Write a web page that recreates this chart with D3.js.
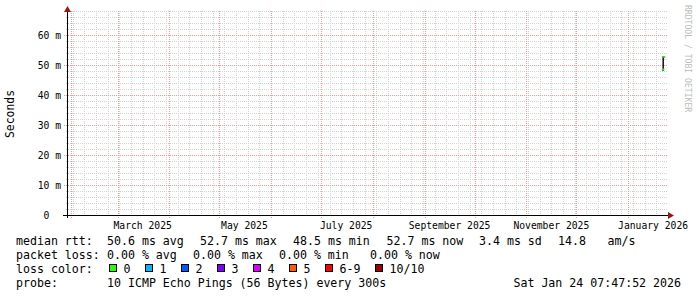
<!DOCTYPE html>
<html>
  <head>
    <meta charset="utf-8" />
    <title>SmokePing median RTT</title>
    <script src="https://d3js.org/d3.v7.min.js"></script>
    <style>
      body { margin: 0; background: #fff; }
      svg text { font-family: "DejaVu Sans Mono", monospace; white-space: pre; }
      .tick-label { font-size: 9.7px; fill: #000; }
      .legend { font-size: 11.6px; fill: #000; }
    </style>
  </head>
  <body>
    <svg id="chart"></svg>
    <script>
      // --- data ---
      const graphStart = '2025-01-29T07:47:52Z';
      const graphEnd = '2026-01-24T07:47:52Z';

      const yTicks = [0, 10, 20, 30, 40, 50, 60];
      const yTickLabels = ['0  ', '10 m', '20 m', '30 m', '40 m', '50 m', '60 m'];

      const xLabelMonths = ['2025-03-01', '2025-05-01', '2025-07-01', '2025-09-01', '2025-11-01', '2026-01-01'];
      const xTickLabels = ['March 2025', 'May 2025', 'July 2025', 'September 2025', 'November 2025', 'January 2026'];

      // median rtt steps (ms), loss level 0
      const stepTimes = ['2026-01-21T21:00:00Z', '2026-01-22T09:00:00Z'];
      const stepEnd = '2026-01-22T22:00:00Z';
      const medianValues = [48.5, 52.7];
      const smokeMin = [48.0, 52.4];
      const smokeMax = [52.9, 52.9];

      const rttStats = ['50.6 ms avg', '52.7 ms max', '48.5 ms min', '52.7 ms now', '3.4 ms sd', '14.8', 'am/s'];
      const lossStats = ['0.00 % avg', '0.00 % max', '0.00 % min', '0.00 % now'];
      const lossLabels = ['0', '1', '2', '3', '4', '5', '6-9', '10/10'];
      const lossColors = ['#26ff00', '#00b8ff', '#0059ff', '#7e00ff', '#dd00ff', '#ff5e00', '#ff0000', '#a10000'];
      const probeText = '10 ICMP Echo Pings (56 Bytes) every 300s';
      const stampText = 'Sat Jan 24 07:47:52 2026';

      // --- layout ---
      const width = 697, height = 297;
      const svg = d3.select('#chart').attr('width', width).attr('height', height);

      const x = d3.scaleUtc()
        .domain([new Date(graphStart), new Date(graphEnd)])
        .range([66.5, 667]);
      const y = d3.scaleLinear().domain([0, 68]).range([215, 11]);

      const plotTop = 11, plotBottom = 215, plotLeft = 67, plotRight = 668;
      const px = v => Math.round(v) + 0.5;

      const grid = svg.append('g');

      // horizontal minor lines every 2 ms
      d3.range(2, 69, 2).filter(v => v % 10 !== 0).forEach(v => {
        grid.append('line')
          .attr('x1', plotLeft - 1).attr('x2', plotRight)
          .attr('y1', px(y(v))).attr('y2', px(y(v)))
          .attr('stroke', '#d2d2d2').attr('stroke-dasharray', '1,1');
      });

      // vertical minor lines: weeks (Sunday)
      const t0 = x.domain()[0], t1 = x.domain()[1];
      d3.utcSunday.range(t0, t1).forEach(d => {
        grid.append('line')
          .attr('x1', px(x(d))).attr('x2', px(x(d)))
          .attr('y1', plotTop).attr('y2', plotBottom + 2)
          .attr('stroke', '#d2d2d2').attr('stroke-dasharray', '1,1');
      });

      // vertical major lines: month starts
      d3.utcMonth.range(t0, t1).forEach(d => {
        grid.append('line')
          .attr('x1', px(x(d))).attr('x2', px(x(d)))
          .attr('y1', plotTop).attr('y2', plotBottom + 3)
          .attr('stroke', '#f09a9a').attr('stroke-dasharray', '1,1');
      });

      // horizontal major lines every 10 ms
      yTicks.filter(v => v > 0).forEach(v => {
        grid.append('line')
          .attr('x1', plotLeft - 3).attr('x2', plotRight)
          .attr('y1', px(y(v))).attr('y2', px(y(v)))
          .attr('stroke', '#f09a9a').attr('stroke-dasharray', '1,1');
      });

      // smoke
      stepTimes.forEach((t, i) => {
        svg.append('rect')
          .attr('x', x(new Date(t)) - 0.5)
          .attr('width', 1.6)
          .attr('y', y(smokeMax[i]))
          .attr('height', y(smokeMin[i]) - y(smokeMax[i]))
          .attr('fill', '#1c1c1c');
      });

      // median, coloured by loss (all 0 here)
      stepTimes.forEach((t, i) => {
        const xa = x(new Date(t));
        const xb = x(new Date(i + 1 < stepTimes.length ? stepTimes[i + 1] : stepEnd));
        svg.append('rect')
          .attr('x', xa - 0.5)
          .attr('width', Math.max(2, xb - xa + 0.5))
          .attr('y', y(medianValues[i]) - 1)
          .attr('height', 2)
          .attr('fill', lossColors[0]);
      });

      // axes
      svg.append('line')
        .attr('x1', plotLeft - 4).attr('x2', plotRight)
        .attr('y1', plotBottom + 0.5).attr('y2', plotBottom + 0.5)
        .attr('stroke', '#000');
      svg.append('line')
        .attr('x1', plotLeft + 0.5).attr('x2', plotLeft + 0.5)
        .attr('y1', plotTop).attr('y2', plotBottom + 3)
        .attr('stroke', '#000');

      // arrows
      svg.append('path')
        .attr('d', `M${plotLeft + 0.5},6 L${plotLeft + 4},12 L${plotLeft - 3},12 Z`)
        .attr('fill', '#a01414');
      svg.append('path')
        .attr('d', `M674,${plotBottom + 0.5} L668,${plotBottom - 3} L668,${plotBottom + 4} Z`)
        .attr('fill', '#a01414');

      // y tick labels
      yTicks.forEach((v, i) => {
        svg.append('text')
          .attr('class', 'tick-label')
          .attr('x', 61).attr('y', y(v) + 4)
          .attr('text-anchor', 'end')
          .text(yTickLabels[i]);
      });

      // x tick labels, centred half a month after the month start
      xLabelMonths.forEach((m, i) => {
        const d = d3.utcDay.offset(new Date(m + 'T00:00:00Z'), 15);
        svg.append('text')
          .attr('class', 'tick-label')
          .attr('x', x(d)).attr('y', 228.5)
          .attr('text-anchor', 'middle')
          .text(xTickLabels[i]);
      });

      // y axis title
      svg.append('text')
        .attr('transform', 'translate(14,114) rotate(-90)')
        .attr('text-anchor', 'middle')
        .style('font-size', '11.4px')
        .text('Seconds');

      // watermark
      svg.append('text')
        .attr('transform', 'translate(685,5) rotate(90)')
        .style('font-size', '8.1px')
        .attr('fill', '#bdbdbd')
        .text('RRDTOOL / TOBI OETIKER');

      // legend
      const leg = svg.append('g').attr('class', 'legend');
      const row = [245, 259, 273, 287];
      const put = (xx, yy, s, anchor) => leg.append('text')
        .attr('class', 'legend').attr('x', xx).attr('y', yy)
        .attr('text-anchor', anchor || 'start').text(s);

      put(16, row[0], 'median rtt:');
      [107, 200, 293, 386.5, 479, 558, 607.5].forEach((xx, i) => put(xx, row[0], rttStats[i]));

      put(16, row[1], 'packet loss:');
      [107, 193, 279, 370].forEach((xx, i) => put(xx, row[1], lossStats[i]));

      put(16, row[2], 'loss color:');
      let bx = 109;
      lossLabels.forEach((lab, i) => {
        leg.append('rect')
          .attr('x', bx + 0.5).attr('y', row[2] - 8.5)
          .attr('width', 7).attr('height', 7)
          .attr('fill', lossColors[i]).attr('stroke', '#000');
        put(bx + 14.5, row[2], lab);
        bx = bx + 14.5 + lab.length * 7 + 14.5;
      });

      put(16, row[3], 'probe:');
      put(107, row[3], probeText);
      put(681, row[3], stampText, 'end');
    </script>
  </body>
</html>
